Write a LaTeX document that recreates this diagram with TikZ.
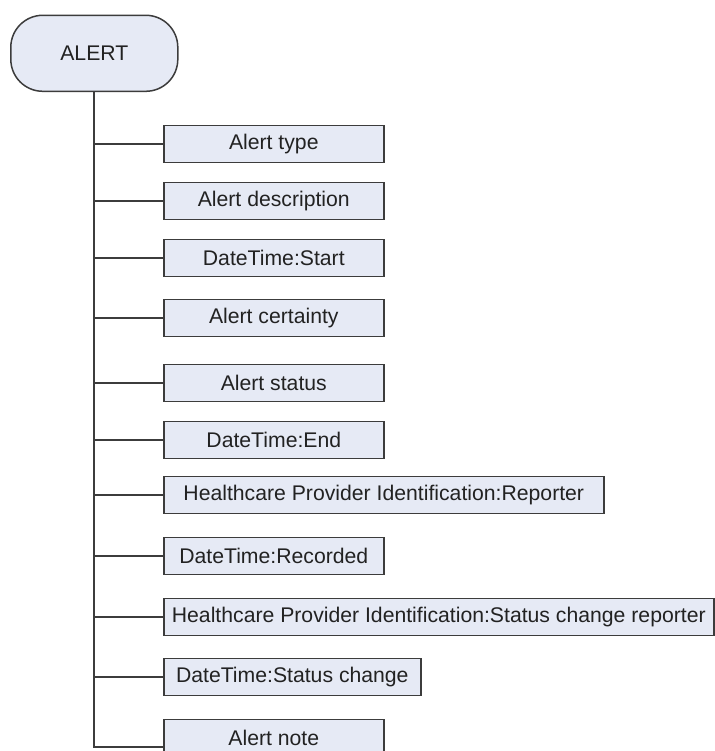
\documentclass[tikz,border=0pt]{standalone}
\usepackage{fontspec}
\setmainfont{Liberation Sans}
\definecolor{boxfill}{RGB}{230,234,245}
\definecolor{linegray}{RGB}{60,60,60}
\definecolor{textgray}{RGB}{34,34,34}
\begin{document}
\begin{tikzpicture}[x=1pt,y=-1pt,
  field/.style={draw=linegray, fill=boxfill, line width=1.6pt, minimum height=37pt,
    inner sep=0pt, anchor=west, text=textgray, font=\fontsize{21.2}{25}\selectfont},
  root/.style={draw=linegray, fill=boxfill, line width=1.5pt, rounded corners=32pt,
    minimum width=167pt, minimum height=76pt, inner sep=0pt, text=textgray,
    font=\fontsize{21.2}{25}\selectfont},
  link/.style={draw=linegray, line width=1.8pt}]
\useasboundingbox[fill=white] (0,0) rectangle (714,751);

% root entity
\node[root] (alert) at (94.3,53.3) {ALERT};

% attributes
\node[field, minimum width=220pt] (type)   at (163,144) {Alert type};
\node[field, minimum width=220pt] (desc)   at (163,201) {Alert description};
\node[field, minimum width=220pt] (start)  at (163,258) {DateTime:Start};
\node[field, minimum width=220pt] (cert)   at (163,318) {Alert certainty};
\node[field, minimum width=220pt] (status) at (163,383) {Alert status};
\node[field, minimum width=220pt] (tend)   at (163,440) {DateTime:End};
\node[field, minimum width=440pt] (rep)    at (163,495) {Healthcare Provider Identification:Reporter};
\node[field, minimum width=220pt] (rec)    at (163,556) {DateTime:Recorded};
\node[field, minimum width=550pt] (screp)  at (163,617) {Healthcare Provider Identification:Status change reporter};
\node[field, minimum width=257pt] (sc)     at (163,677) {DateTime:Status change};
\node[field, minimum width=220pt] (note)   at (163,738) {Alert note};

% trunk with the last branch
\draw[link] (alert.south) |- ([yshift=-9pt]note.west);

% branches
\foreach \n in {type,desc,start,cert,status,tend,rep,rec,screp,sc}
  \draw[link] (\n.west) -- (\n.west -| alert.south);
\end{tikzpicture}
\end{document}
